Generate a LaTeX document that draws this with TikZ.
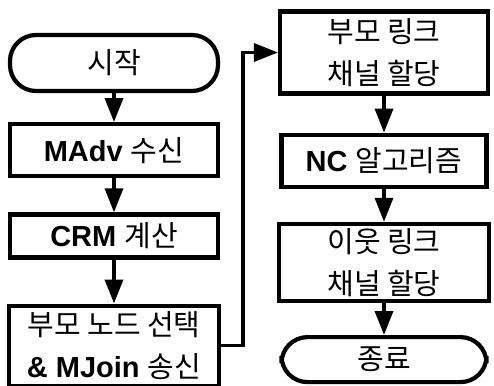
\documentclass[tikz,border=0pt]{standalone}
\usepackage{fontspec}
\setmainfont{Liberation Sans}
\newfontfamily\kr{Noto Sans CJK KR}
\usetikzlibrary{positioning}
\usetikzlibrary{arrows.meta}
\newcommand{\ko}[1]{{\kr #1}}

\begin{document}
\begin{tikzpicture}[
 x=1pt, y=1pt,
 block/.style = {
    rectangle,
    draw=black,
    line width=4.2pt,
    minimum width=208pt,
    align=center,
    inner sep=0pt,
    font=\fontsize{29}{42}\selectfont},
 term/.style = {
    block,
    rounded corners=26pt},
 flow/.style = {-{Triangle[width=18pt,length=24pt]}, line width=3.5pt}
  ]
\useasboundingbox (0,0) rectangle (494,-385);
% left column
\node(start)[term,minimum height=56pt] at (114,-63) {\ko{시작}};
\node(madv)[block,minimum height=52pt,below=29pt of start]{\textbf{MAdv} \ko{수신}};
\node(crm)[block,minimum height=43pt,below=34pt of madv]{\textbf{CRM} \ko{계산}};
\node(select)[block,minimum width=210pt,minimum height=80pt,below=44pt of crm]{\ko{부모 노드 선택}\\\textbf{\& MJoin} \ko{송신}};
% right column
\node(parent)[block,minimum height=82pt] at (384,-52.5) {\ko{부모 링크}\\\ko{채널 할당}};
\node(nc)[block,minimum width=205pt,minimum height=52pt,below=37pt of parent]{\textbf{NC} \ko{알고리즘}};
\node(neigh)[block,minimum width=210pt,minimum height=77pt,below=33pt of nc]{\ko{이웃 링크}\\\ko{채널 할당}};
\node(end)[term,minimum width=205pt,minimum height=45pt,below=32pt of neigh]{\ko{종료}};

\draw[flow] (start) -- (madv);
\draw[flow] (madv) -- (crm);
\draw[flow] (crm) -- (select);
\draw[flow] (select.east) -- ++(22,0) |- (parent.west);
\draw[flow] (parent) -- (nc);
\draw[flow] (nc) -- (neigh);
\draw[flow] (neigh) -- (end);

\end{tikzpicture}
\end{document}
